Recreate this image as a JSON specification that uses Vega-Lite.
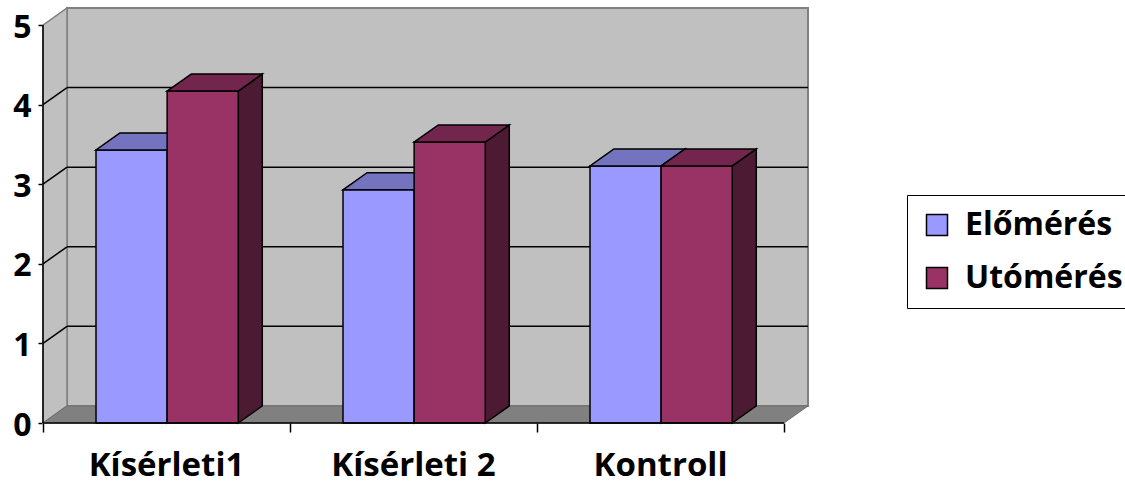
{
  "$schema": "https://vega.github.io/schema/vega-lite/v6.json",
  "autosize": {"type": "none"},
  "width": 765,
  "height": 415,
  "padding": {"left": 43, "top": 8, "right": 317, "bottom": 62},
  "background": "white",
  "config": {
    "view": {"stroke": null},
    "font": "Open Sans"
  },
  "datasets": {
    "meres": [
      {"csoport": "Kísérleti1", "sorozat": "Előmérés", "ertek": 3.43},
      {"csoport": "Kísérleti1", "sorozat": "Utómérés", "ertek": 4.17},
      {"csoport": "Kísérleti 2", "sorozat": "Előmérés", "ertek": 2.93},
      {"csoport": "Kísérleti 2", "sorozat": "Utómérés", "ertek": 3.53},
      {"csoport": "Kontroll", "sorozat": "Előmérés", "ertek": 3.23},
      {"csoport": "Kontroll", "sorozat": "Utómérés", "ertek": 3.23}
    ]
  },
  "layer": [
    {
      "data": {"values": [{}]},
      "mark": {"type": "rect", "fill": "#c0c0c0", "stroke": "#808080", "strokeWidth": 2},
      "encoding": {
        "x": {"datum": 0.0972, "type": "quantitative",
          "scale": {"domain": [0, 3.0972], "nice": false, "zero": false},
          "axis": {"title": null, "domain": false, "grid": false, "labels": false, "values": [0, 1, 2, 3], "tickColor": "black", "tickSize": 9, "tickWidth": 1.5}},
        "x2": {"datum": 3.0972},
        "y": {"datum": 0.214, "type": "quantitative",
          "scale": {"domain": [0, 5.214], "nice": false, "zero": false},
          "axis": {"title": null, "domain": false, "grid": false, "values": [0, 1, 2, 3, 4, 5], "format": "d", "tickColor": "black", "tickSize": 5, "tickWidth": 1.5, "labelFont": "Open Sans", "labelFontWeight": "bold", "labelFontSize": 32, "labelColor": "black", "labelPadding": 7, "labelOffset": 2}},
        "y2": {"datum": 5.214}
      }
    },
    {
      "data": {"values": [{}]},
      "transform": [
        {"calculate": "[0, 1]", "as": "k"},
        {"flatten": ["k"]},
        {"calculate": "datum.k * 0.0972", "as": "wx"},
        {"calculate": "datum.k * 0.214", "as": "wy"},
        {"calculate": "5 + datum.k * 0.214", "as": "wy2"}
      ],
      "mark": {"type": "area", "orient": "vertical", "fill": "#c0c0c0", "stroke": "#808080", "strokeWidth": 1.5},
      "encoding": {
        "x": {"field": "wx", "type": "quantitative", "title": null},
        "y": {"field": "wy", "type": "quantitative", "title": null},
        "y2": {"field": "wy2"}
      }
    },
    {
      "data": {"values": [{}]},
      "transform": [
        {"calculate": "[0, 1]", "as": "k"},
        {"flatten": ["k"]},
        {"calculate": "datum.k * 0.214", "as": "fy"},
        {"calculate": "datum.k * 0.0972", "as": "fx"},
        {"calculate": "3 + datum.k * 0.0972", "as": "fx2"}
      ],
      "mark": {"type": "area", "orient": "horizontal", "fill": "#808080", "stroke": "#6e6e6e", "strokeWidth": 1},
      "encoding": {
        "y": {"field": "fy", "type": "quantitative", "title": null},
        "x": {"field": "fx", "type": "quantitative", "title": null},
        "x2": {"field": "fx2"}
      }
    },
    {
      "data": {"values": [{}]},
      "transform": [
        {"calculate": "[1, 2, 3, 4]", "as": "g"},
        {"flatten": ["g"]},
        {"calculate": "datum.g + 0.214", "as": "gb"}
      ],
      "mark": {"type": "rule", "color": "black", "strokeWidth": 1.5},
      "encoding": {
        "x": {"datum": 0.0972, "type": "quantitative"},
        "x2": {"datum": 3.0972},
        "y": {"field": "gb", "type": "quantitative", "title": null}
      }
    },
    {
      "data": {"values": [{}]},
      "transform": [
        {"calculate": "[1, 2, 3, 4]", "as": "g"},
        {"flatten": ["g"]},
        {"calculate": "datum.g + 0.214", "as": "gb"}
      ],
      "mark": {"type": "rule", "color": "black", "strokeWidth": 1.5},
      "encoding": {
        "x": {"datum": 0, "type": "quantitative"},
        "x2": {"datum": 0.0972},
        "y": {"field": "g", "type": "quantitative", "title": null},
        "y2": {"field": "gb"}
      }
    },
    {
      "data": {"name": "meres"},
      "transform": [
        {"filter": "datum.sorozat === 'Előmérés'"},
        {"calculate": "indexof(['Kísérleti1','Kísérleti 2','Kontroll'], datum.csoport)", "as": "idx"},
        {"calculate": "datum.idx + 0.2146 + 0.288", "as": "x1"},
        {"calculate": "[0, 1]", "as": "k"},
        {"flatten": ["k"]},
        {"calculate": "datum.x1 + datum.k * 0.0972", "as": "sx"},
        {"calculate": "datum.k * 0.214", "as": "sy"},
        {"calculate": "datum.ertek + datum.k * 0.214", "as": "sy2"}
      ],
      "mark": {"type": "area", "orient": "vertical", "fill": "#4d4d80", "stroke": "black", "strokeWidth": 1.5},
      "encoding": {
        "x": {"field": "sx", "type": "quantitative", "title": null},
        "y": {"field": "sy", "type": "quantitative", "title": null},
        "y2": {"field": "sy2"},
        "detail": {"field": "csoport"}
      }
    },
    {
      "data": {"name": "meres"},
      "transform": [
        {"filter": "datum.sorozat === 'Előmérés'"},
        {"calculate": "indexof(['Kísérleti1','Kísérleti 2','Kontroll'], datum.csoport)", "as": "idx"},
        {"calculate": "datum.idx + 0.2146", "as": "x0"},
        {"calculate": "datum.x0 + 0.288", "as": "x1"}
      ],
      "mark": {"type": "rect", "stroke": "black", "strokeWidth": 1.5},
      "encoding": {
        "x": {"field": "x0", "type": "quantitative", "title": null},
        "x2": {"field": "x1"},
        "y": {"field": "ertek", "type": "quantitative", "title": null},
        "y2": {"datum": 0},
        "color": {"field": "sorozat", "type": "nominal",
          "scale": {"domain": ["Előmérés", "Utómérés"], "range": ["#9999ff", "#993366"]},
          "legend": {"orient": "none", "legendX": 864, "legendY": 187, "title": null,
            "strokeColor": "black", "fillColor": "white", "padding": 14,
            "symbolType": "square", "symbolSize": 441, "symbolStrokeColor": "black", "symbolStrokeWidth": 1.5, "symbolOpacity": 1,
            "labelFont": "Open Sans", "labelFontWeight": "bold", "labelFontSize": 32, "labelColor": "black",
            "labelOffset": 12, "rowPadding": 21, "labelLimit": 400}}
      }
    },
    {
      "data": {"name": "meres"},
      "transform": [
        {"filter": "datum.sorozat === 'Előmérés'"},
        {"calculate": "indexof(['Kísérleti1','Kísérleti 2','Kontroll'], datum.csoport)", "as": "idx"},
        {"calculate": "datum.idx + 0.2146", "as": "x0"},
        {"calculate": "datum.x0 + 0.288", "as": "x1"},
        {"calculate": "[0, 1]", "as": "k"},
        {"flatten": ["k"]},
        {"calculate": "datum.ertek + datum.k * 0.214", "as": "ty"},
        {"calculate": "datum.x0 + datum.k * 0.0972", "as": "tx"},
        {"calculate": "datum.x1 + datum.k * 0.0972", "as": "tx2"}
      ],
      "mark": {"type": "area", "orient": "horizontal", "fill": "#7373bf", "stroke": "black", "strokeWidth": 1.5},
      "encoding": {
        "y": {"field": "ty", "type": "quantitative", "title": null},
        "x": {"field": "tx", "type": "quantitative", "title": null},
        "x2": {"field": "tx2"},
        "detail": {"field": "csoport"}
      }
    },
    {
      "data": {"name": "meres"},
      "transform": [
        {"filter": "datum.sorozat === 'Utómérés'"},
        {"calculate": "indexof(['Kísérleti1','Kísérleti 2','Kontroll'], datum.csoport)", "as": "idx"},
        {"calculate": "datum.idx + 0.2146 + 0.576", "as": "x1"},
        {"calculate": "[0, 1]", "as": "k"},
        {"flatten": ["k"]},
        {"calculate": "datum.x1 + datum.k * 0.0972", "as": "sx"},
        {"calculate": "datum.k * 0.214", "as": "sy"},
        {"calculate": "datum.ertek + datum.k * 0.214", "as": "sy2"}
      ],
      "mark": {"type": "area", "orient": "vertical", "fill": "#4d1a33", "stroke": "black", "strokeWidth": 1.5},
      "encoding": {
        "x": {"field": "sx", "type": "quantitative", "title": null},
        "y": {"field": "sy", "type": "quantitative", "title": null},
        "y2": {"field": "sy2"},
        "detail": {"field": "csoport"}
      }
    },
    {
      "data": {"name": "meres"},
      "transform": [
        {"filter": "datum.sorozat === 'Utómérés'"},
        {"calculate": "indexof(['Kísérleti1','Kísérleti 2','Kontroll'], datum.csoport)", "as": "idx"},
        {"calculate": "datum.idx + 0.2146 + 0.288", "as": "x0"},
        {"calculate": "datum.x0 + 0.288", "as": "x1"}
      ],
      "mark": {"type": "rect", "stroke": "black", "strokeWidth": 1.5},
      "encoding": {
        "x": {"field": "x0", "type": "quantitative", "title": null},
        "x2": {"field": "x1"},
        "y": {"field": "ertek", "type": "quantitative", "title": null},
        "y2": {"datum": 0},
        "color": {"field": "sorozat", "type": "nominal"}
      }
    },
    {
      "data": {"name": "meres"},
      "transform": [
        {"filter": "datum.sorozat === 'Utómérés'"},
        {"calculate": "indexof(['Kísérleti1','Kísérleti 2','Kontroll'], datum.csoport)", "as": "idx"},
        {"calculate": "datum.idx + 0.2146 + 0.288", "as": "x0"},
        {"calculate": "datum.x0 + 0.288", "as": "x1"},
        {"calculate": "[0, 1]", "as": "k"},
        {"flatten": ["k"]},
        {"calculate": "datum.ertek + datum.k * 0.214", "as": "ty"},
        {"calculate": "datum.x0 + datum.k * 0.0972", "as": "tx"},
        {"calculate": "datum.x1 + datum.k * 0.0972", "as": "tx2"}
      ],
      "mark": {"type": "area", "orient": "horizontal", "fill": "#73264d", "stroke": "black", "strokeWidth": 1.5},
      "encoding": {
        "y": {"field": "ty", "type": "quantitative", "title": null},
        "x": {"field": "tx", "type": "quantitative", "title": null},
        "x2": {"field": "tx2"},
        "detail": {"field": "csoport"}
      }
    },
    {
      "data": {"values": [{}]},
      "mark": {"type": "rule", "color": "black", "strokeWidth": 1.5},
      "encoding": {
        "x": {"datum": 0, "type": "quantitative"},
        "y": {"datum": 0, "type": "quantitative"},
        "y2": {"datum": 5}
      }
    },
    {
      "data": {"values": [{}]},
      "mark": {"type": "rule", "color": "black", "strokeWidth": 1.5},
      "encoding": {
        "x": {"datum": 0, "type": "quantitative"},
        "x2": {"datum": 3},
        "y": {"datum": 0, "type": "quantitative"}
      }
    },
    {
      "data": {"name": "meres"},
      "transform": [
        {"filter": "datum.sorozat === 'Előmérés'"},
        {"calculate": "indexof(['Kísérleti1','Kísérleti 2','Kontroll'], datum.csoport)", "as": "idx"},
        {"calculate": "datum.idx + 0.5", "as": "xc"}
      ],
      "mark": {"type": "text", "font": "Open Sans", "fontWeight": "bold", "fontSize": 33, "color": "black", "baseline": "alphabetic", "align": "center", "dy": 53},
      "encoding": {
        "x": {"field": "xc", "type": "quantitative", "title": null},
        "y": {"datum": 0, "type": "quantitative"},
        "text": {"field": "csoport"}
      }
    }
  ]
}
